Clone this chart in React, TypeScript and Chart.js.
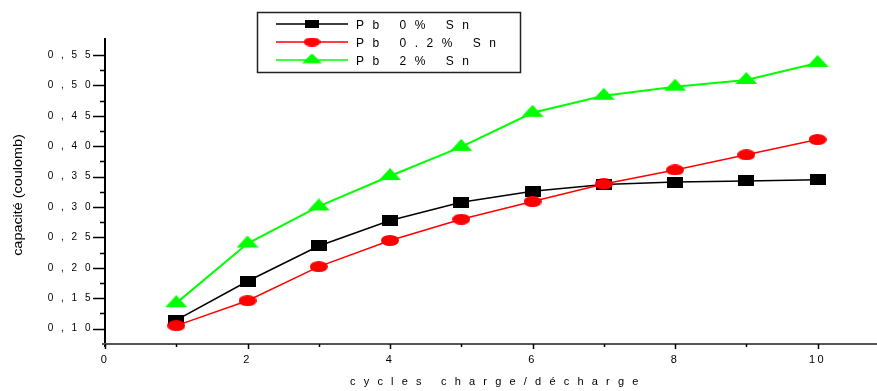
import React, { useEffect, useRef } from 'react';
import { Chart, registerables } from 'chart.js';

Chart.register(...registerables);

const cycles = [1, 2, 3, 4, 5, 6, 7, 8, 9, 10];
const pb0 = [0.114, 0.178, 0.236, 0.278, 0.308, 0.326, 0.337, 0.341, 0.343, 0.345];
const pb02 = [0.105, 0.146, 0.202, 0.245, 0.28, 0.309, 0.338, 0.361, 0.386, 0.411];
const pb2 = [0.142, 0.24, 0.301, 0.351, 0.399, 0.455, 0.483, 0.498, 0.509, 0.537];
const seriesLabels = ['Pb 0% Sn', 'Pb 0.2% Sn', 'Pb 2% Sn'];
const xTitle = 'cycles charge/décharge';
const yTitle = 'capacité (coulomb)';

const FONT = '"Liberation Sans", Arial, sans-serif';

function makeMarker(kind: string, w: number, h: number, color: string) {
  const c = document.createElement('canvas');
  const ch = kind === 'tri' ? Math.round(h * 4 / 3) : h;
  c.width = w;
  c.height = ch;
  const g = c.getContext('2d')!;
  g.fillStyle = color;
  if (kind === 'rect') {
    g.fillRect(0, 0, w, h);
  } else if (kind === 'ellipse') {
    g.beginPath();
    g.ellipse(w / 2, h / 2, w / 2, h / 2, 0, 0, Math.PI * 2);
    g.fill();
  } else {
    const top = ch / 2 - (2 / 3) * h;
    g.beginPath();
    g.moveTo(w / 2, top);
    g.lineTo(w, top + h);
    g.lineTo(0, top + h);
    g.closePath();
    g.fill();
  }
  return c;
}

export default function App() {
  const ref = useRef<HTMLCanvasElement | null>(null);

  useEffect(() => {
    if (!ref.current) return;
    const colors = ['#000000', '#ff0000', '#00ff00'];
    const dataMarkers = [
      makeMarker('rect', 16, 11, colors[0]),
      makeMarker('ellipse', 18, 11, colors[1]),
      makeMarker('tri', 22, 12, colors[2]),
    ];
    const legendMarkers = [
      makeMarker('rect', 14, 8, colors[0]),
      makeMarker('ellipse', 17, 9, colors[1]),
      makeMarker('tri', 20, 10, colors[2]),
    ];
    const series = [pb0, pb02, pb2];

    const decor = {
      id: 'decor',
      beforeDraw(chart: any) {
        (chart.ctx as any).letterSpacing = '2.5px';
      },
      beforeDatasetsDraw(chart: any) {
        const ctx = chart.ctx as any;
        ctx.letterSpacing = '0px';
        const { left, right, top, bottom } = chart.chartArea;
        const xs = chart.scales.x;
        const ys = chart.scales.y;
        ctx.save();
        ctx.strokeStyle = '#000';
        ctx.lineWidth = 2;
        ctx.beginPath();
        ctx.moveTo(left, top);
        ctx.lineTo(left, bottom + 3);
        ctx.stroke();
        const yt = ys.ticks.map((t: any) => t.value);
        ctx.lineWidth = 1.5;
        yt.forEach((v: number, i: number) => {
          const y = Math.round(ys.getPixelForValue(v)) + 0.5;
          ctx.beginPath();
          ctx.moveTo(left - 12, y);
          ctx.lineTo(left, y);
          ctx.stroke();
          if (i < yt.length - 1) {
            const ym = Math.round(ys.getPixelForValue((v + yt[i + 1]) / 2)) + 0.5;
            ctx.beginPath();
            ctx.moveTo(left - 5, ym);
            ctx.lineTo(left, ym);
            ctx.stroke();
          }
        });
        ctx.strokeStyle = '#555';
        ctx.lineWidth = 2;
        ctx.beginPath();
        ctx.moveTo(left - 3, bottom);
        ctx.lineTo(right, bottom);
        ctx.stroke();
        const xt = xs.ticks.map((t: any) => t.value);
        ctx.strokeStyle = '#000';
        ctx.lineWidth = 1.5;
        xt.forEach((v: number, i: number) => {
          const x = Math.round(xs.getPixelForValue(v)) + 0.5;
          ctx.beginPath();
          ctx.moveTo(x, bottom);
          ctx.lineTo(x, bottom + 5);
          ctx.stroke();
          if (i < xt.length - 1) {
            const xm = Math.round(xs.getPixelForValue((v + xt[i + 1]) / 2)) + 0.5;
            ctx.beginPath();
            ctx.moveTo(xm, bottom);
            ctx.lineTo(xm, bottom + 3);
            ctx.stroke();
          }
        });
        ctx.restore();
      },
      afterDraw(chart: any) {
        const ctx = chart.ctx as any;
        ctx.save();
        ctx.strokeStyle = '#222';
        ctx.lineWidth = 1.5;
        ctx.strokeRect(257.5, 12.5, 263, 60);
        const rows = [24, 42, 60];
        seriesLabels.forEach((lab, i) => {
          const y = rows[i];
          ctx.strokeStyle = colors[i];
          ctx.lineWidth = 1.5;
          ctx.beginPath();
          ctx.moveTo(276, y);
          ctx.lineTo(348, y);
          ctx.stroke();
          const m = legendMarkers[i];
          ctx.drawImage(m, 312 - m.width / 2, y - m.height / 2);
          ctx.fillStyle = '#000';
          ctx.font = '12px ' + FONT;
          ctx.letterSpacing = '8.5px';
          ctx.textAlign = 'left';
          ctx.textBaseline = 'alphabetic';
          ctx.fillText(lab, 356, y + 5);
        });
        ctx.font = '11px ' + FONT;
        ctx.letterSpacing = '8.2px';
        ctx.fillStyle = '#000';
        ctx.textAlign = 'left';
        ctx.textBaseline = 'alphabetic';
        ctx.fillText(xTitle, 350, 385);
        ctx.letterSpacing = '0px';
        ctx.font = '12px ' + FONT;
        ctx.translate(19, 195);
        ctx.rotate(-Math.PI / 2);
        ctx.scale(1.2, 1);
        ctx.textAlign = 'center';
        ctx.textBaseline = 'middle';
        ctx.fillText(yTitle, 0, 0);
        ctx.restore();
      },
    };

    const chart = new Chart(ref.current, {
      type: 'line',
      data: {
        labels: cycles,
        datasets: series.map((vals, i) => ({
          label: seriesLabels[i],
          data: cycles.map((c, j) => ({ x: c, y: vals[j] })),
          borderColor: colors[i],
          backgroundColor: colors[i],
          borderWidth: i === 2 ? 2 : 1.5,
          pointStyle: dataMarkers[i] as any,
          pointRadius: 6,
          pointHoverRadius: 6,
          tension: 0,
          fill: false,
          order: i === 1 ? 1 : i === 0 ? 2 : 3,
        })),
      },
      options: {
        responsive: false,
        animation: false,
        events: [],
        layout: { autoPadding: false, padding: { top: 38, left: 0, right: 0, bottom: 0 } },
        plugins: {
          legend: { display: false },
          tooltip: { enabled: false },
          title: { display: false },
        },
        scales: {
          x: {
            type: 'linear',
            min: 0,
            max: 10.835,
            grid: { display: false, drawTicks: false },
            border: { display: false },
            ticks: {
              stepSize: 2,
              includeBounds: false,
              autoSkip: false,
              maxRotation: 0,
              padding: 9,
              color: '#000',
              font: { family: FONT, size: 11 },
              callback: (v: any) => String(v),
            },
            afterFit: (s: any) => {
              s.height = 47;
            },
          },
          y: {
            type: 'linear',
            min: 0.0748,
            max: 0.578,
            grid: { display: false, drawTicks: false },
            border: { display: false },
            ticks: {
              stepSize: 0.05,
              includeBounds: false,
              autoSkip: false,
              padding: 12,
              color: '#000',
              font: { family: FONT, size: 10 },
              callback: (v: any) => {
                const s = Number(v).toFixed(2);
                return s[0] + ' , ' + s[2] + ' ' + s[3];
              },
            },
            afterFit: (s: any) => {
              s.width = 105;
            },
          },
        },
      } as any,
      plugins: [decor],
    });
    return () => chart.destroy();
  }, []);

  return (
    <div style={{ position: 'fixed', left: 0, top: 0, width: 877, height: 391, background: '#fff' }}>
      <canvas ref={ref} width={877} height={391} style={{ display: 'block' }} />
    </div>
  );
}
